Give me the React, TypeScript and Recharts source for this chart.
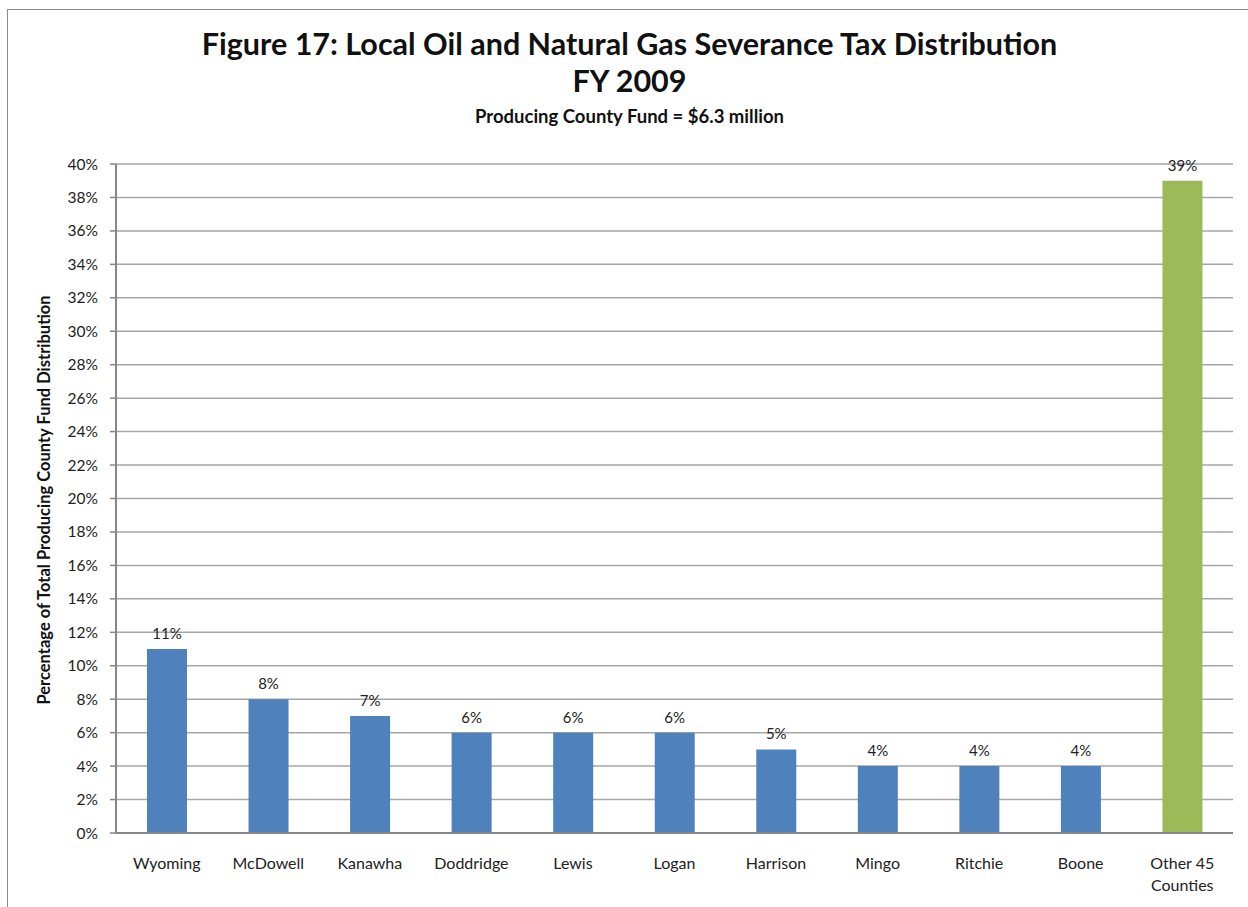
import { BarChart, Bar, XAxis, YAxis, CartesianGrid, Cell, LabelList } from "recharts";

const counties = [
  "Wyoming",
  "McDowell",
  "Kanawha",
  "Doddridge",
  "Lewis",
  "Logan",
  "Harrison",
  "Mingo",
  "Ritchie",
  "Boone",
  "Other 45 Counties",
];
const shares = [11, 8, 7, 6, 6, 6, 5, 4, 4, 4, 39];
const barColors = [
  "#4F81BD", "#4F81BD", "#4F81BD", "#4F81BD", "#4F81BD",
  "#4F81BD", "#4F81BD", "#4F81BD", "#4F81BD", "#4F81BD",
  "#9BBB59",
];
const yTicks = [0, 2, 4, 6, 8, 10, 12, 14, 16, 18, 20, 22, 24, 26, 28, 30, 32, 34, 36, 38, 40];

const FONT = "Lato, 'Open Sans', sans-serif";

const chartData = counties.map((name, i) => ({ name, share: shares[i] }));

// splits long names like "Other 45 Counties" over two lines
const CountyTick = (props: any) => {
  const { x, y, payload } = props;
  const text: string = payload.value;
  let lines = [text];
  if (text.length > 12) {
    const cut = text.lastIndexOf(" ");
    lines = [text.slice(0, cut), text.slice(cut + 1)];
  }
  return (
    <text x={x} y={y} textAnchor="middle" fontFamily={FONT} fontSize={16} fill="#222">
      {lines.map((l, i) => (
        <tspan key={i} x={x} dy={i === 0 ? 36 : 22}>
          {l}
        </tspan>
      ))}
    </text>
  );
};

export default function App() {
  return (
    <div
      style={{
        position: "absolute",
        left: 0,
        top: 0,
        width: 1248,
        height: 907,
        overflow: "hidden",
        background: "#fff",
        fontFamily: FONT,
      }}
    >
      {/* chart frame, cut off at right and bottom like the source */}
      <div
        style={{
          position: "absolute",
          left: 7,
          top: 9,
          width: 1400,
          height: 1100,
          border: "1.5px solid #8c8c8c",
        }}
      />
      <div
        style={{
          position: "absolute",
          left: 0,
          width: 1259,
          top: 25,
          textAlign: "center",
          fontWeight: 700,
          fontSize: 30.5,
          lineHeight: "37px",
          color: "#111",
        }}
      >
        Figure 17: Local Oil and Natural Gas Severance Tax Distribution
        <br />
        FY 2009
      </div>
      <div
        style={{
          position: "absolute",
          left: 0,
          width: 1259,
          top: 105,
          textAlign: "center",
          fontWeight: 700,
          fontSize: 18.5,
          color: "#111",
        }}
      >
        Producing County Fund = $6.3 million
      </div>
      <div
        style={{
          position: "absolute",
          left: 44,
          top: 500,
          transform: "translate(-50%, -50%) rotate(-90deg)",
          whiteSpace: "nowrap",
          fontWeight: 700,
          fontSize: 16.5,
          color: "#111",
        }}
      >
        Percentage of Total Producing County Fund Distribution
      </div>
      <div style={{ position: "absolute", left: 0, top: 0 }}>
        <BarChart
          width={1248}
          height={907}
          data={chartData}
          margin={{ top: 164, right: 15, left: 56, bottom: 34 }}
          barSize={40}
        >
          <CartesianGrid vertical={false} stroke="#a6a6a6" strokeWidth={1.5} />
          <XAxis
            dataKey="name"
            interval={0}
            height={40}
            tickLine={false}
            tickSize={0}
            tickMargin={0}
            tick={<CountyTick />}
            axisLine={{ stroke: "#868686", strokeWidth: 2 }}
          />
          <YAxis
            width={60}
            domain={[0, 40]}
            ticks={yTicks}
            interval={0}
            tickFormatter={(v: number) => `${v}%`}
            tickSize={6}
            tickMargin={12}
            tick={{ fontFamily: FONT, fontSize: 15.5, fill: "#222" }}
            tickLine={{ stroke: "#868686", strokeWidth: 1.5 }}
            axisLine={{ stroke: "#868686", strokeWidth: 2 }}
          />
          <Bar dataKey="share" isAnimationActive={false}>
            {chartData.map((d, i) => (
              <Cell key={d.name} fill={barColors[i]} />
            ))}
            <LabelList
              dataKey="share"
              position="top"
              offset={10}
              formatter={(v: any) => `${v}%`}
              style={{ fontFamily: FONT, fontSize: 15, fill: "#222" }}
            />
          </Bar>
        </BarChart>
      </div>
    </div>
  );
}
